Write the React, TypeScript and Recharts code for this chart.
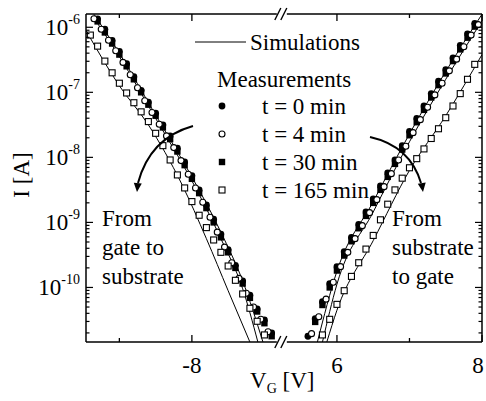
import { ComposedChart, Line, Scatter, XAxis, YAxis } from 'recharts'

// gate voltage grids of the measurements [V]
const leftV = [-9.4, -9.3, -9.2, -9.1, -9.0, -8.9, -8.8, -8.7, -8.6, -8.5, -8.4, -8.3, -8.2, -8.1, -8.0, -7.9, -7.8, -7.7, -7.6, -7.5, -7.4, -7.3, -7.2, -7.1, -7.0, -6.9]
const leftHalfV = [-9.35, -9.25, -9.15, -9.05, -8.95, -8.85, -8.75, -8.65, -8.55, -8.45, -8.35, -8.25, -8.15, -8.05, -7.95, -7.85, -7.75, -7.65, -7.55, -7.45, -7.35, -7.25, -7.15, -7.05, -6.95]
const rightV = [5.6, 5.7, 5.8, 5.9, 6.0, 6.1, 6.2, 6.3, 6.4, 6.5, 6.6, 6.7, 6.8, 6.9, 7.0, 7.1, 7.2, 7.3, 7.4, 7.5, 7.6, 7.7, 7.8, 7.9]
const rightHalfV = [5.65, 5.75, 5.85, 5.95, 6.05, 6.15, 6.25, 6.35, 6.45, 6.55, 6.65, 6.75, 6.85, 6.95, 7.05, 7.15, 7.25, 7.35, 7.45, 7.55, 7.65, 7.75, 7.85, 7.95]

// measured currents, log10(I [A])
const t0Left = [null, -5.87, -6.03, -6.2, -6.37, -6.56, -6.76, -6.97, -7.15, -7.32, -7.5, -7.67, -7.86, -8.07, -8.28, -8.5, -8.73, -8.95, -9.18, -9.42, -9.66, -9.9, -10.12, -10.33, -10.5, -10.7]
const t4Left = [-5.87, -6.03, -6.2, -6.36, -6.54, -6.73, -6.93, -7.13, -7.31, -7.49, -7.67, -7.85, -8.05, -8.26, -8.47, -8.69, -8.92, -9.15, -9.38, -9.62, -9.86, -10.09, -10.3, -10.49, -10.68]
const t30Left = [null, -5.91, -6.08, -6.25, -6.42, -6.6, -6.8, -7.0, -7.19, -7.36, -7.54, -7.72, -7.91, -8.12, -8.33, -8.55, -8.78, -9.0, -9.23, -9.46, -9.7, -9.94, -10.16, -10.37, -10.55, -10.75]
const t165Left = [-6.12, -6.29, -6.52, -6.7, -6.86, -7.01, -7.16, -7.3, -7.45, -7.63, -7.82, -8.04, -8.27, -8.47, -8.68, -8.89, -9.08, -9.27, -9.46, -9.67, -9.89, -10.1, -10.32, -10.52, -10.73, null]

const t0Right = [-10.75, -10.48, -10.22, -9.94, -9.68, -9.45, -9.23, -9.03, -8.84, -8.64, -8.44, -8.24, -8.04, -7.82, -7.6, -7.4, -7.21, -7.02, -6.83, -6.65, -6.47, -6.28, -6.1, -5.94]
const t4Right = [-10.71, -10.45, -10.18, -9.92, -9.68, -9.46, -9.25, -9.05, -8.85, -8.65, -8.45, -8.25, -8.04, -7.83, -7.62, -7.42, -7.23, -7.04, -6.86, -6.67, -6.49, -6.3, -6.12, -5.96]
const t30Right = [null, -10.53, -10.27, -10.0, -9.74, -9.51, -9.29, -9.09, -8.9, -8.7, -8.5, -8.3, -8.1, -7.88, -7.66, -7.46, -7.27, -7.08, -6.89, -6.71, -6.52, -6.34, -6.16, -5.99]
const t165Right = [null, null, -10.73, -10.49, -10.26, -10.05, -9.83, -9.62, -9.41, -9.2, -8.96, -8.72, -8.5, -8.32, -8.16, -8.02, -7.87, -7.71, -7.56, -7.39, -7.21, -7.02, -6.8, -6.57]

// simulations
const simLeft0V = [-9.35, -9.0, -8.5, -8.0, -7.6, -7.3, -7.02]
const simLeft0 = [-5.8, -6.4, -7.35, -8.3, -9.15, -9.9, -10.84]
const simLeft30V = [-9.35, -9.0, -8.5, -8.0, -7.6, -7.3, -7.09]
const simLeft30 = [-5.86, -6.45, -7.4, -8.36, -9.25, -10.02, -10.84]
const simLeft165V = [-9.46, -9.0, -8.6, -8.14, -7.8, -7.5, -7.2]
const simLeft165 = [-6.05, -6.9, -7.5, -8.41, -9.25, -10.05, -10.84]
const simRight0V = [5.73, 6.0, 6.5, 7.0, 7.5, 8.0]
const simRight0 = [-10.84, -9.75, -8.68, -7.64, -6.68, -5.8]
const simRight4V = [5.8, 6.0, 6.5, 7.0, 7.5, 8.0]
const simRight4 = [-10.84, -9.95, -8.84, -7.76, -6.8, -5.9]
const simRight165V = [5.86, 6.0, 6.5, 7.0, 7.5, 8.0]
const simRight165 = [-10.84, -10.35, -9.28, -8.2, -7.36, -6.42]

// axis ticks
const xTicks = [3, 4, 6, 7, 8]
const xTickLabels: Record<number, string> = { 4: '-8', 6: '6', 8: '8' }
const yMajor = [1e-10, 1e-9, 1e-8, 1e-7, 1e-6]
const yMantissa = [2, 3, 4, 5, 6, 7, 8, 9]
const legendLabels = ['t = 0 min', 't = 4 min', 't = 30 min', 't = 165 min']

const W = 486
const H = 401
const SHIFT = 12 // left branch is drawn at V + 12 so the broken axis is one scale
const X_MIN = 2.54
const X_MAX = 8
const BREAK_U = 5.24
const Y_MIN = 1.45e-11
const Y_MAX = 1.6e-6
const PL = 86
const PR = 482
const PT = 14
const PB = 342
const FONT = '"Liberation Serif", "Times New Roman", serif'

const yMinor: number[] = []
for (const m of yMantissa) {
  for (const d of [1e-11, 1e-10, 1e-9, 1e-8, 1e-7]) {
    const v = m * d
    if (v > Y_MIN && v < Y_MAX) yMinor.push(v)
  }
}
const yTicks = [...yMajor, ...yMinor].sort((a, b) => a - b)

const pts = (vs: number[], logs: (number | null)[], shift = 0) =>
  vs.flatMap((v, i) => (logs[i] == null ? [] : [{ u: v + shift, I: Math.pow(10, logs[i] as number) }]))

const t0 = [...pts(leftV, t0Left, SHIFT), ...pts(rightV, t0Right)]
const t4 = [...pts(leftHalfV, t4Left, SHIFT), ...pts(rightHalfV, t4Right)]
const t30 = [...pts(leftV, t30Left, SHIFT), ...pts(rightV, t30Right)]
const t165 = [...pts(leftV, t165Left, SHIFT), ...pts(rightV, t165Right)]

const simLines = [
  pts(simLeft0V, simLeft0, SHIFT),
  pts(simLeft30V, simLeft30, SHIFT),
  pts(simLeft165V, simLeft165, SHIFT),
  pts(simRight0V, simRight0),
  pts(simRight4V, simRight4),
  pts(simRight165V, simRight165)
]

const FilledCircle = (p: any) => <circle cx={p.cx} cy={p.cy} r={3.4} fill="#000" />
const OpenCircle = (p: any) => <circle cx={p.cx} cy={p.cy} r={3} fill="#fff" stroke="#000" strokeWidth={1.1} />
const FilledSquare = (p: any) => <rect x={p.cx - 3.2} y={p.cy - 3.2} width={6.4} height={6.4} fill="#000" />
const OpenSquare = (p: any) => (
  <rect x={p.cx - 3} y={p.cy - 3} width={6} height={6} fill="#fff" stroke="#000" strokeWidth={1.1} />
)
const shapes = [FilledCircle, OpenCircle, FilledSquare, OpenSquare]

function XTick({ x, y, payload }: any) {
  const label = xTickLabels[payload.value]
  const len = label ? 7 : 4
  // the last label sits on the right edge of the page, nudge it in
  const lx = x > PR - 2 ? x - 4 : x
  return (
    <g>
      <line x1={x} y1={y} x2={x} y2={y - len} stroke="#000" strokeWidth={1.3} />
      <line x1={x} y1={PT} x2={x} y2={PT + len} stroke="#000" strokeWidth={1.3} />
      {label && (
        <text x={lx} y={y + 31} textAnchor="middle" fontSize={23} fontFamily={FONT} fill="#000">
          {label}
        </text>
      )}
    </g>
  )
}

function YTick({ x, y, payload }: any) {
  const lg = Math.log10(payload.value)
  const major = Math.abs(lg - Math.round(lg)) < 1e-6
  const len = major ? 7 : 3.5
  return (
    <g>
      <line x1={x} y1={y} x2={x + len} y2={y} stroke="#000" strokeWidth={1.2} />
      <line x1={PR} y1={y} x2={PR - len} y2={y} stroke="#000" strokeWidth={1.2} />
      {major && (
        <text x={x - 6} y={y + 8} textAnchor="end" fontSize={23} fontFamily={FONT} fill="#000">
          10
          <tspan dy={-11} fontSize={14}>
            {Math.round(lg)}
          </tspan>
        </text>
      )}
    </g>
  )
}

function BreakMark({ x, y }: { x: number; y: number }) {
  return (
    <g>
      <rect x={x - 5} y={y - 2} width={10} height={4} fill="#fff" />
      <line x1={x - 7} y1={y + 6} x2={x - 1} y2={y - 6} stroke="#000" strokeWidth={1.4} />
      <line x1={x - 1} y1={y + 6} x2={x + 5} y2={y - 6} stroke="#000" strokeWidth={1.4} />
    </g>
  )
}

function Arrow({ d, hx, hy, angle }: { d: string; hx: number; hy: number; angle: number }) {
  return (
    <g>
      <path d={d} fill="none" stroke="#000" strokeWidth={2} />
      <path d="M0,0 L-4,-9 L4,-9 Z" fill="#000" transform={`translate(${hx},${hy}) rotate(${angle})`} />
    </g>
  )
}

export default function App() {
  const breakX = PL + ((BREAK_U - X_MIN) / (X_MAX - X_MIN)) * (PR - PL)
  const txt = { fontFamily: FONT, fontSize: 23, fill: '#000' }
  return (
    <div style={{ position: 'fixed', left: 0, top: 0, width: W, height: H, background: '#fff' }}>
      <ComposedChart width={W} height={H} margin={{ top: PT, right: W - PR, bottom: 29, left: 36 }}>
        <XAxis
          type="number"
          dataKey="u"
          domain={[X_MIN, X_MAX]}
          allowDataOverflow
          ticks={xTicks}
          interval={0}
          height={30}
          tickSize={0}
          tickMargin={0}
          tickLine={false}
          axisLine={{ stroke: '#000', strokeWidth: 1.5 }}
          tick={<XTick />}
        />
        <YAxis
          type="number"
          scale="log"
          domain={[Y_MIN, Y_MAX]}
          allowDataOverflow
          ticks={yTicks}
          interval={0}
          width={50}
          tickSize={0}
          tickMargin={0}
          tickLine={false}
          axisLine={{ stroke: '#000', strokeWidth: 1.5 }}
          tick={<YTick />}
        />
        {simLines.map((d, i) => (
          <Line
            key={i}
            data={d}
            dataKey="I"
            type="monotone"
            stroke="#000"
            strokeWidth={1}
            dot={false}
            isAnimationActive={false}
          />
        ))}
        <Scatter data={t0} dataKey="I" shape={FilledCircle} isAnimationActive={false} />
        <Scatter data={t30} dataKey="I" shape={FilledSquare} isAnimationActive={false} />
        <Scatter data={t4} dataKey="I" shape={OpenCircle} isAnimationActive={false} />
        <Scatter data={t165} dataKey="I" shape={OpenSquare} isAnimationActive={false} />
      </ComposedChart>
      <svg width={W} height={H} style={{ position: 'absolute', left: 0, top: 0, pointerEvents: 'none' }}>
        <line x1={PL} y1={PT} x2={PR} y2={PT} stroke="#000" strokeWidth={1.5} />
        <line x1={PR} y1={PT} x2={PR} y2={PB} stroke="#000" strokeWidth={1.5} />
        <BreakMark x={breakX} y={PT} />
        <BreakMark x={breakX} y={PB} />

        <line x1={195} y1={42} x2={246} y2={42} stroke="#000" strokeWidth={1} />
        <text x={250} y={50} {...txt}>Simulations</text>
        <text x={217} y={87} {...txt}>Measurements</text>
        {legendLabels.map((l, i) => {
          const Shape = shapes[i]
          const cy = 106 + i * 28
          return (
            <g key={l}>
              <Shape cx={222} cy={cy} />
              <text x={262} y={cy + 8} {...txt}>{l}</text>
            </g>
          )
        })}

        <Arrow d="M193,126 Q150,138 138,183" hx={137} hy={192} angle={5} />
        <Arrow d="M370,137 Q410,146 421,183" hx={423} hy={192} angle={-8} />

        <text x={102} y={226} {...txt}>From</text>
        <text x={102} y={255} {...txt}>gate to</text>
        <text x={102} y={284} {...txt}>substrate</text>
        <text x={392} y={226} {...txt}>From</text>
        <text x={392} y={255} {...txt}>substrate</text>
        <text x={392} y={284} {...txt}>to gate</text>

        <text x={0} y={0} {...txt} textAnchor="middle" transform="translate(29,175) rotate(-90)">
          I [A]
        </text>
        <text x={250} y={388} {...txt}>
          V<tspan fontSize={14} dy={5}>G</tspan>
          <tspan dy={-5}> [V]</tspan>
        </text>
      </svg>
    </div>
  )
}
